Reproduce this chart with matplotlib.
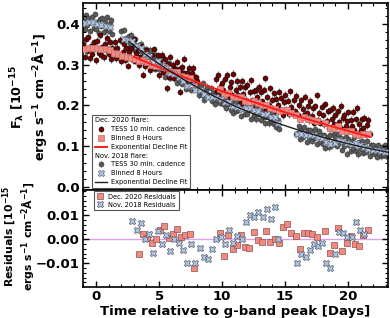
import numpy as np
import matplotlib
matplotlib.use('Agg')
import matplotlib.pyplot as plt
from matplotlib.lines import Line2D
from matplotlib.ticker import MultipleLocator, FixedLocator, AutoMinorLocator, FuncFormatter

# ---------------- data (flux in 1e-15 ergs/s/cm2/A, time in days) ----------------
# Dec. 2020 flare, TESS 10-min cadence (shown every 0.1 d), two segments
dec_raw_t1 = (-1.0, 8.0)
dec_raw_f1 = [0.350,0.320,0.363,0.333,0.368,0.316,0.346,0.326,0.355,0.341,
              0.311,0.359,0.329,0.373,0.323,0.343,0.318,0.352,0.335,0.366,
              0.327,0.357,0.314,0.342,0.334,0.356,0.316,0.342,0.323,0.361,
              0.309,0.331,0.352,0.312,0.340,0.298,0.332,0.320,0.341,0.312,
              0.363,0.310,0.328,0.339,0.299,0.320,0.346,0.276,0.327,0.296,
              0.336,0.307,0.320,0.286,0.323,0.307,0.338,0.292,0.296,0.323,
              0.275,0.307,0.324,0.281,0.298,0.313,0.242,0.303,0.270,0.320,
              0.287,0.300,0.267,0.289,0.307,0.270,0.289,0.234,0.295,0.279,
              0.315,0.261,0.280,0.265,0.292,0.253,0.279,0.293,0.244,0.269,
              0.259]
dec_raw_t2 = (9.5, 21.7)
dec_raw_f2 = [0.265,0.236,0.275,0.224,0.248,
              0.256,0.239,0.266,0.226,0.275,0.218,0.245,0.257,0.226,0.278,
              0.218,0.238,0.260,0.225,0.245,0.205,0.260,0.228,0.245,0.214,
              0.250,0.207,0.232,0.262,0.213,0.235,0.193,0.239,0.221,0.246,
              0.204,0.232,0.210,0.239,0.267,0.190,0.221,0.202,0.242,0.192,
              0.214,0.230,0.187,0.217,0.202,0.234,0.192,0.219,0.177,0.208,
              0.226,0.190,0.212,0.179,0.235,0.196,0.180,0.213,0.186,0.223,
              0.177,0.200,0.169,0.213,0.191,0.177,0.222,0.181,0.199,0.164,
              0.211,0.175,0.193,0.157,0.198,0.225,0.165,0.182,0.158,0.197,
              0.176,0.154,0.203,0.163,0.186,0.144,0.188,0.167,0.194,0.154,
              0.177,0.150,0.186,0.160,0.199,0.142,0.169,0.177,0.150,0.161,
              0.183,0.140,0.165,0.149,0.184,0.140,0.166,0.194,0.130,0.155,
              0.139,0.166,0.144,0.170,0.130,0.152,0.164,0.131]
dec_raw_err = 0.009
raw_step = 0.1

# Nov. 2018 flare, TESS 30-min cadence (shown every 0.1 d), three segments
nov_raw_t1 = (-1.0, 1.3)
nov_raw_f1 = [0.411,0.388,0.422,0.398,0.414,0.382,0.404,0.416,0.391,0.424,
              0.387,0.405,0.378,0.412,0.396,0.415,0.381,0.405,0.389,0.417,
              0.384,0.399,0.409,0.376]
nov_raw_t2 = (2.0, 14.5)
nov_raw_f2 = [0.382,0.356,0.385,0.359,0.365,0.340,0.370,0.353,0.374,0.339,
              0.352,0.362,0.334,0.319,0.349,0.333,0.352,0.316,0.336,0.318,
              0.338,0.305,0.324,0.337,0.305,0.312,0.327,0.290,0.316,0.299,
              0.289,0.308,0.319,0.289,0.296,0.270,0.302,0.284,0.304,0.268,
              0.288,0.269,0.293,0.273,0.256,0.283,0.263,0.288,0.253,0.268,
              0.279,0.241,0.266,0.251,0.269,0.239,0.253,0.272,0.240,0.246,
              0.256,0.239,0.225,0.249,0.226,0.255,0.214,0.238,0.246,0.222,
              0.226,0.242,0.212,0.231,0.204,0.233,0.213,0.238,0.206,0.219,
              0.230,0.203,0.213,0.193,0.217,0.204,0.225,0.190,0.208,0.182,
              0.207,0.186,0.210,0.190,0.212,0.175,0.193,0.200,0.180,0.210,
              0.180,0.200,0.192,0.168,0.201,0.176,0.190,0.166,0.200,0.179,
              0.187,0.165,0.190,0.172,0.156,0.189,0.174,0.156,0.181,0.161,
              0.181,0.155,0.172,0.148,0.164,0.142]
nov_raw_t3 = (15.9, 23.2)
nov_raw_f3 = [0.129,
              0.132,0.149,0.119,0.141,0.122,0.148,0.131,0.111,0.139,0.122,
              0.140,0.114,0.131,0.121,0.142,0.106,0.125,0.137,0.111,0.128,
              0.105,0.127,0.096,0.110,0.122,0.097,0.128,0.102,0.111,0.129,
              0.122,0.101,0.130,0.107,0.121,0.091,0.113,0.101,0.123,0.082,
              0.118,0.102,0.089,0.113,0.094,0.122,0.089,0.107,0.080,0.111,
              0.093,0.112,0.083,0.100,0.086,0.113,0.093,0.076,0.102,0.086,
              0.102,0.081,0.095,0.074,0.103,0.085,0.075,0.097,0.079,0.102,
              0.077,0.092,0.082]
nov_raw_err = 0.008

# Binned 8 hours
dec_bin_t = [-0.92,-0.58,-0.25,0.08,0.42,0.75,1.08,1.42,1.75,2.08,2.42,2.75,3.08,
             3.42,3.75,4.08,4.42,4.75,5.08,5.42,5.75,6.08,6.42,6.75,7.08,7.42,7.75,
             9.83,10.17,10.5,10.83,11.17,11.5,11.83,12.17,12.5,12.83,13.17,13.5,13.83,
             14.17,14.5,14.83,15.17,15.5,15.83,16.17,16.5,16.83,17.17,17.5,
             18.2,18.55,18.88,19.22,19.55,19.88,20.22,20.55,20.88,21.22,21.55]
dec_bin_f = [0.338,0.342,0.342,0.342,0.338,0.338,0.336,0.330,0.327,0.322,0.319,0.317,0.315,
             0.308,0.312,0.306,0.300,0.297,0.296,0.294,0.285,0.283,0.281,0.273,0.270,0.267,0.249,
             0.240,0.226,0.231,0.222,0.220,0.221,0.212,0.208,0.211,0.205,0.200,0.202,0.194,
             0.192,0.187,0.190,0.188,0.181,0.177,0.168,0.172,0.168,0.165,0.161,
             0.157,0.145,0.145,0.149,0.137,0.137,0.137,0.131,0.127,0.129,0.129]
nov_bin_t = [-0.9,-0.57,-0.23,0.1,0.43,0.77,1.1,2.22,2.55,
             2.88,3.22,3.55,3.88,4.22,4.55,4.88,5.22,5.55,5.88,6.22,6.55,6.88,7.22,7.55,
             7.88,8.22,8.55,8.88,9.22,9.55,9.88,10.22,10.55,10.88,11.22,11.55,11.88,
             12.22,12.55,12.88,13.22,13.55,13.88,14.22,14.47,
             15.98,16.3,16.62,16.96,17.28,17.6,17.95,18.27,18.6,18.94,19.27,19.6,19.94,
             20.28,20.6,20.94,21.28,21.6,21.94,22.28,22.6,22.94]
nov_bin_f = [0.403,0.406,0.405,0.401,0.398,0.395,0.393,0.364,0.360,
             0.358,0.346,0.341,0.327,0.321,0.306,0.308,0.296,0.292,0.279,0.278,0.270,0.261,0.249,0.251,
             0.237,0.238,0.229,0.222,0.221,0.220,0.216,0.208,0.209,0.199,0.197,0.191,0.194,
             0.193,0.188,0.186,0.180,0.179,0.171,0.172,0.156,
             0.131,0.131,0.127,0.127,0.127,0.123,0.121,0.110,0.105,0.108,0.115,0.112,0.108,
             0.105,0.109,0.104,0.099,0.094,0.092,0.090,0.088,0.086]

# Exponential decline fits  F = A*exp(-t/tau) + C
dec_fit = dict(A=0.5655, tau=40.0, C=-0.2053, t0=3.0, t1=21.7)
nov_fit = dict(A=0.428, tau=14.35, C=0.0, t0=2.6, t1=23.2)

# Residuals (binned - fit)
dec_res_t = [3.42,3.75,4.08,4.42,4.75,5.08,5.42,5.75,6.08,6.42,6.75,7.08,7.42,7.75,
             9.83,10.17,10.5,10.83,11.17,11.5,11.83,12.17,12.5,12.83,13.17,13.5,13.83,
             14.17,14.5,14.83,15.17,15.5,15.83,16.17,16.5,16.83,17.17,17.5,
             18.2,18.55,18.88,19.22,19.55,19.88,20.22,20.55,20.88,21.22,21.55]
dec_res = [-0.0060,0.0021,0.0005,-0.0015,0.0000,0.0037,0.0054,0.0007,0.0020,0.0043,0.0010,0.0017,0.0020,-0.0120,
           0.0026,-0.0068,0.0018,-0.0040,-0.0022,0.0017,-0.0032,-0.0035,0.0028,-0.0004,-0.0012,0.0033,-0.0010,
           0.0003,-0.0014,0.0049,0.0065,0.0024,0.0012,-0.0039,0.0024,0.0024,0.0020,0.0010,
           0.0035,-0.0057,-0.0022,0.0045,-0.0049,-0.0015,0.0014,-0.0018,-0.0029,0.0018,0.0038]
nov_res_t = [2.88,3.22,3.55,3.88,4.22,4.55,4.88,5.22,5.55,5.88,6.22,6.55,6.88,7.22,7.55,
             7.88,8.22,8.55,8.88,9.22,9.55,9.88,10.22,10.55,10.88,11.22,11.55,11.88,
             12.22,12.55,12.88,13.22,13.55,13.88,14.22,14.47,
             15.98,16.3,16.62,16.96,17.28,17.6,17.95,18.27,18.6,18.94,19.27,19.6,19.94,
             20.28,20.6,20.94,21.28]
nov_res = [0.0075,0.0037,0.0068,0.0000,0.0020,-0.0056,0.0035,-0.0018,0.0017,-0.0049,0.0000,-0.0015,-0.0043,-0.0101,-0.0018,
           -0.0099,-0.0036,-0.0074,-0.0082,-0.0039,0.0000,0.0010,-0.0018,0.0040,-0.0015,0.0012,0.0000,0.0071,
           0.0100,0.0093,0.0114,0.0093,0.0126,0.0083,0.0135,0.0000,
           -0.0100,-0.0060,-0.0074,-0.0043,-0.0018,-0.0028,-0.0015,-0.0101,-0.0118,-0.0060,0.0028,0.0026,0.0010,
           0.0010,0.0072,0.0040,0.0021]
res_ticks = [-0.01, 0.0, 0.01]

# ---------------- style ----------------
plt.rcParams.update({
    'font.family': ['DejaVu Sans'],
    'font.weight': 'bold',
    'axes.labelweight': 'bold',
    'mathtext.default': 'bf',
    'axes.linewidth': 1.2,
})

def seg_times(seg):
    return np.round(np.arange(seg[0], seg[1] + 1e-6, raw_step), 2)

dec_t = np.concatenate([seg_times(dec_raw_t1), seg_times(dec_raw_t2)])
dec_f = np.array(dec_raw_f1 + dec_raw_f2)
nov_t = np.concatenate([seg_times(nov_raw_t1), seg_times(nov_raw_t2), seg_times(nov_raw_t3)])
nov_f = np.array(nov_raw_f1 + nov_raw_f2 + nov_raw_f3)

def fit_curve(p):
    t = np.linspace(p['t0'], p['t1'], 200)
    return t, p['A'] * np.exp(-t / p['tau']) + p['C']

fig = plt.figure(figsize=(3.9, 3.18), dpi=100)
ax1 = fig.add_axes([0.213, 0.4025, 0.782, 0.588])
ax2 = fig.add_axes([0.213, 0.0975, 0.782, 0.305], sharex=ax1)

# raw data
eb_nov = ax1.errorbar(nov_t, nov_f, yerr=nov_raw_err, fmt='o', ms=3.6, mfc='#5a5a5a', mec='#303030',
                      mew=0.4, ecolor='#a0a0a0', elinewidth=0.9, capsize=0, zorder=1)
eb_dec = ax1.errorbar(dec_t, dec_f, yerr=dec_raw_err, fmt='o', ms=3.6, mfc='#760000', mec='black',
                      mew=0.4, ecolor='#808080', elinewidth=0.9, capsize=0, zorder=2)
# binned
b_dec, = ax1.plot(dec_bin_t, dec_bin_f, 's', ms=4.4, mfc='#f08a80', mec='#c07070', mew=0.5, zorder=3)
b_nov, = ax1.plot(nov_bin_t, nov_bin_f, 'X', ms=4.6, mfc='#b0c4de', mec='#606878', mew=0.5, zorder=3)
# fits
tx, fx = fit_curve(dec_fit)
l_dec, = ax1.plot(tx, fx, '-', color='#ff1a1a', lw=1.4, zorder=4)
tx, fx = fit_curve(nov_fit)
l_nov, = ax1.plot(tx, fx, '-', color='#202020', lw=1.0, zorder=4)

hdr1 = Line2D([], [], linestyle='none')
hdr2 = Line2D([], [], linestyle='none')
handles = [hdr1, eb_dec, b_dec, l_dec, hdr2, eb_nov, b_nov, l_nov]
labels = ['Dec. 2020 flare:', 'TESS 10 min. cadence', 'Binned 8 Hours', 'Exponential Decline Fit',
          'Nov. 2018 flare:', 'TESS 30 min. cadence', 'Binned 8 Hours', 'Exponential Decline Fit']
leg = ax1.legend(handles, labels, loc='lower left', bbox_to_anchor=(0.03, 0.012),
                 prop={'size': 4.8, 'weight': 'normal'}, frameon=True, fancybox=False,
                 edgecolor='#555555', framealpha=1, labelspacing=0.42, handlelength=1.8,
                 handletextpad=0.6, borderpad=0.4, borderaxespad=0)
leg.get_frame().set_linewidth(0.8)
for col in leg._legend_handle_box.get_children():
    for i, row in enumerate(col.get_children()):
        if i in (0, 4):
            row.get_children()[0].width = 0
            row.sep = 0

ax1.set_xlim(-1.03, 23.17)
ax1.set_ylim(-0.0074, 0.4515)
ax1.yaxis.set_major_locator(MultipleLocator(0.1))
ax1.yaxis.set_minor_locator(AutoMinorLocator())
ax1.yaxis.set_major_formatter(FuncFormatter(lambda v, p: f'{v:.1f}'.replace('-', '\u2212')))
ax1.set_ylabel('F$_{\\lambda}$ [10$^{-15}$\nergs s$^{-1}$ cm$^{-2}$\u00c5$^{-1}$]', fontsize=9.2)
ax1.yaxis.set_label_coords(-0.112, 0.5)
plt.setp(ax1.get_xticklabels(), visible=False)

# residuals
ax2.axhline(0, color='#dda0ec', lw=1.0, zorder=1)
r_dec, = ax2.plot(dec_res_t, dec_res, 's', ms=4.8, mfc='#f08a80', mec='#905050', mew=0.5, zorder=3,
                  label='Dec. 2020 Residuals')
r_nov, = ax2.plot(nov_res_t, nov_res, 'X', ms=5.0, mfc='#b0c4de', mec='#505868', mew=0.5, zorder=3,
                  label='Nov. 2018 Residuals')
leg2 = ax2.legend(loc='upper left', bbox_to_anchor=(0.036, 0.985), prop={'size': 4.8, 'weight': 'normal'},
                  frameon=True, fancybox=False, edgecolor='#555555', framealpha=1, labelspacing=0.3,
                  handlelength=1.2, handletextpad=0.6, borderpad=0.35, borderaxespad=0)
leg2.get_frame().set_linewidth(0.8)
ax2.set_ylim(-0.0199, 0.0205)
ax2.yaxis.set_major_locator(FixedLocator(res_ticks))
ax2.yaxis.set_minor_locator(MultipleLocator(0.002))
ax2.yaxis.set_major_formatter(FuncFormatter(lambda v, p: f'{v:.2f}'.replace('-', '\u2212')))
ax2.xaxis.set_major_locator(MultipleLocator(5))
ax2.xaxis.set_minor_locator(AutoMinorLocator())
ax2.set_ylabel('Residuals [10$^{-15}$\nergs s$^{-1}$ cm$^{-2}$\u00c5$^{-1}$]', fontsize=7.8,
               linespacing=1.0)
ax2.yaxis.set_label_coords(-0.155, 0.52)
ax2.set_xlabel('Time relative to g-band peak [Days]', fontsize=9.5, labelpad=1)

for ax in (ax1, ax2):
    ax.tick_params(which='both', direction='in', top=True, right=True, labelsize=9.5, pad=2.5)
    ax.tick_params(which='major', length=4, width=1.0)
    ax.tick_params(which='minor', length=2, width=0.8)
    for lab in ax.get_xticklabels() + ax.get_yticklabels():
        lab.set_fontweight('bold')

fig.savefig('out.png', dpi=100)
